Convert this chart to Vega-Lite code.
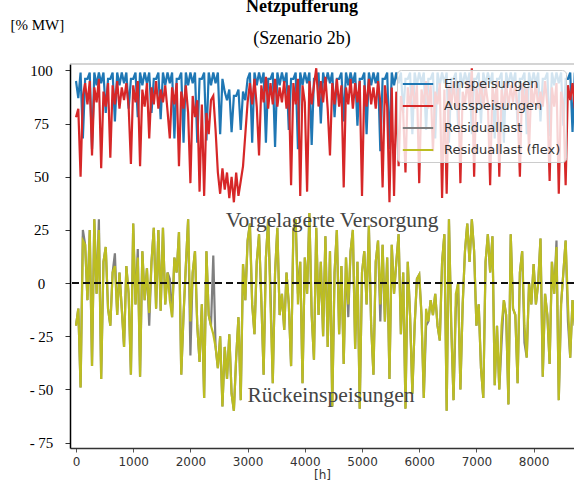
{
  "$schema": "https://vega.github.io/schema/vega-lite/v6.json",
  "width": 504,
  "height": 384,
  "autosize": {"type": "none"},
  "padding": {"left": 70, "top": 64, "right": 0, "bottom": 42},
  "config": {
    "view": {"stroke": null},
    "legend": {
      "orient": "none", "legendX": 327, "legendY": 6,
      "fillColor": "rgba(255,255,255,0.8)", "strokeColor": "#cccccc", "cornerRadius": 4,
      "padding": 5, "symbolType": "M-1.9,0H1.9", "symbolSize": 256, "symbolStrokeWidth": 2, "symbolOffset": 7,
      "labelFont": "DejaVu Sans", "labelFontSize": 13, "labelColor": "#333333", "labelOffset": 17,
      "rowPadding": 6
    }
  },
  "title": {
    "text": "Netzpufferung", "subtitle": "(Szenario 2b)",
    "font": "Liberation Serif", "fontSize": 18, "fontWeight": "bold", "color": "black",
    "subtitleFont": "Liberation Serif", "subtitleFontSize": 18, "subtitleColor": "black",
    "subtitlePadding": 14, "anchor": "middle", "frame": "group", "offset": -31, "dx": -20
  },
  "data": {"values": [
    {"h":0,"E":95,"A":78,"R":-20,"F":-20},{"h":40,"E":87,"A":82,"R":-12,"F":-12},{"h":80,"E":99,"A":50,"R":-49,"F":-49},{"h":120,"E":68,"A":88,"R":25,"F":20},{"h":160,"E":96,"A":94,"R":18,"F":18},
    {"h":200,"E":96,"A":84,"R":-8,"F":-8},{"h":240,"E":99,"A":95,"R":25,"F":25},{"h":280,"E":63,"A":60,"R":-39,"F":-39},{"h":320,"E":99,"A":92,"R":30,"F":30},{"h":360,"E":93,"A":85,"R":-5,"F":-5},
    {"h":400,"E":99,"A":96,"R":30,"F":25},{"h":440,"E":94,"A":54,"R":-45,"F":-45},{"h":480,"E":99,"A":90,"R":10,"F":10},{"h":520,"E":80,"A":83,"R":17,"F":17},{"h":560,"E":96,"A":94,"R":-12,"F":-12},
    {"h":600,"E":96,"A":59,"R":-20,"F":-20},{"h":640,"E":99,"A":93,"R":5,"F":5},{"h":680,"E":76,"A":84,"R":14,"F":8},{"h":720,"E":99,"A":95,"R":-15,"F":-15},{"h":760,"E":93,"A":82,"R":5,"F":5},
    {"h":800,"E":99,"A":92,"R":-12,"F":-12},{"h":840,"E":94,"A":86,"R":-30,"F":-30},{"h":880,"E":99,"A":94,"R":8,"F":8},{"h":920,"E":82,"A":83,"R":-5,"F":-5},{"h":960,"E":96,"A":56,"R":-43,"F":-43},
    {"h":1000,"E":96,"A":93,"R":28,"F":28},{"h":1040,"E":99,"A":85,"R":-10,"F":-10},{"h":1080,"E":78,"A":95,"R":16,"F":12},{"h":1120,"E":99,"A":55,"R":-44,"F":-44},{"h":1160,"E":93,"A":91,"R":15,"F":15},
    {"h":1200,"E":99,"A":83,"R":-8,"F":-8},{"h":1240,"E":94,"A":94,"R":7,"F":7},{"h":1280,"E":99,"A":68,"R":-20,"F":-14},{"h":1320,"E":80,"A":92,"R":10,"F":10},{"h":1360,"E":96,"A":84,"R":26,"F":26},
    {"h":1400,"E":96,"A":95,"R":-12,"F":-12},{"h":1440,"E":99,"A":82,"R":25,"F":25},{"h":1480,"E":77,"A":91,"R":-13,"F":-13},{"h":1520,"E":99,"A":85,"R":26,"F":26},{"h":1560,"E":93,"A":93,"R":-10,"F":-10},
    {"h":1600,"E":99,"A":81,"R":5,"F":5},{"h":1640,"E":94,"A":68,"R":2,"F":-8},{"h":1680,"E":99,"A":92,"R":-16,"F":-16},{"h":1720,"E":68,"A":84,"R":12,"F":12},{"h":1760,"E":96,"A":94,"R":5,"F":5},
    {"h":1800,"E":96,"A":55,"R":24,"F":24},{"h":1840,"E":99,"A":90,"R":-43,"F":-43},{"h":1880,"E":66,"A":82,"R":-15,"F":-15},{"h":1920,"E":99,"A":93,"R":8,"F":8},{"h":1960,"E":93,"A":80,"R":30,"F":30},
    {"h":2000,"E":99,"A":47,"R":-34,"F":-18},{"h":2040,"E":94,"A":88,"R":5,"F":5},{"h":2080,"E":99,"A":78,"R":15,"F":15},{"h":2120,"E":66,"A":86,"R":-20,"F":-20},{"h":2160,"E":96,"A":43,"R":-37,"F":-37},
    {"h":2200,"E":96,"A":84,"R":-10,"F":-10},{"h":2240,"E":99,"A":41,"R":-54,"F":-54},{"h":2280,"E":67,"A":80,"R":15,"F":15},{"h":2320,"E":99,"A":70,"R":-15,"F":-15},{"h":2360,"E":93,"A":86,"R":-20,"F":-20},
    {"h":2400,"E":99,"A":88,"R":13,"F":-24},{"h":2440,"E":94,"A":72,"R":-30,"F":-30},{"h":2480,"E":99,"A":52,"R":-40,"F":-40},{"h":2520,"E":70,"A":42,"R":-25,"F":-25},{"h":2560,"E":96,"A":54,"R":-58,"F":-58},
    {"h":2600,"E":90,"A":44,"R":-30,"F":-30},{"h":2640,"E":86,"A":52,"R":-45,"F":-45},{"h":2680,"E":91,"A":40,"R":-24,"F":-24},{"h":2720,"E":71,"A":50,"R":-52,"F":-52},{"h":2760,"E":88,"A":38,"R":-60,"F":-60},
    {"h":2800,"E":88,"A":52,"R":-35,"F":-35},{"h":2840,"E":91,"A":41,"R":-16,"F":-16},{"h":2880,"E":72,"A":48,"R":-55,"F":-55},{"h":2920,"E":90,"A":55,"R":9,"F":9},{"h":2960,"E":86,"A":70,"R":-8,"F":-8},
    {"h":3000,"E":96,"A":85,"R":20,"F":20},{"h":3040,"E":99,"A":94,"R":28,"F":28},{"h":3080,"E":66,"A":84,"R":-10,"F":-10},{"h":3120,"E":99,"A":96,"R":-24,"F":-24},{"h":3160,"E":93,"A":83,"R":10,"F":10},
    {"h":3200,"E":99,"A":60,"R":23,"F":23},{"h":3240,"E":94,"A":93,"R":-8,"F":-8},{"h":3280,"E":99,"A":85,"R":-43,"F":-43},{"h":3320,"E":66,"A":97,"R":12,"F":12},{"h":3360,"E":96,"A":82,"R":30,"F":30},
    {"h":3400,"E":96,"A":94,"R":-3,"F":-10},{"h":3440,"E":99,"A":84,"R":-47,"F":-47},{"h":3480,"E":64,"A":96,"R":5,"F":5},{"h":3520,"E":99,"A":83,"R":26,"F":26},{"h":3560,"E":93,"A":92,"R":-15,"F":-15},
    {"h":3600,"E":99,"A":85,"R":-5,"F":-5},{"h":3640,"E":94,"A":95,"R":-22,"F":-22},{"h":3680,"E":99,"A":82,"R":5,"F":5},{"h":3720,"E":72,"A":93,"R":-10,"F":-10},{"h":3760,"E":96,"A":46,"R":-39,"F":-39},
    {"h":3800,"E":96,"A":94,"R":25,"F":25},{"h":3840,"E":99,"A":84,"R":30,"F":30},{"h":3880,"E":63,"A":96,"R":-5,"F":-10},{"h":3920,"E":99,"A":41,"R":10,"F":10},{"h":3960,"E":93,"A":93,"R":-47,"F":-47},
    {"h":4000,"E":99,"A":85,"R":12,"F":12},{"h":4040,"E":94,"A":43,"R":-5,"F":-5},{"h":4080,"E":99,"A":95,"R":33,"F":33},{"h":4120,"E":65,"A":84,"R":-15,"F":-15},{"h":4160,"E":96,"A":93,"R":-36,"F":-36},
    {"h":4200,"E":96,"A":101,"R":26,"F":26},{"h":4240,"E":99,"A":83,"R":-15,"F":-15},{"h":4280,"E":75,"A":95,"R":10,"F":10},{"h":4320,"E":99,"A":85,"R":-25,"F":-25},{"h":4360,"E":93,"A":97,"R":22,"F":22},
    {"h":4400,"E":99,"A":82,"R":-30,"F":-30},{"h":4440,"E":94,"A":60,"R":15,"F":15},{"h":4480,"E":99,"A":94,"R":-58,"F":-58},{"h":4520,"E":78,"A":84,"R":5,"F":5},{"h":4560,"E":96,"A":96,"R":25,"F":25},
    {"h":4600,"E":96,"A":83,"R":-24,"F":-24},{"h":4640,"E":99,"A":93,"R":8,"F":8},{"h":4680,"E":76,"A":45,"R":-38,"F":-38},{"h":4720,"E":99,"A":92,"R":12,"F":12},{"h":4760,"E":93,"A":84,"R":-16,"F":-10},
    {"h":4800,"E":99,"A":96,"R":15,"F":15},{"h":4840,"E":94,"A":82,"R":25,"F":25},{"h":4880,"E":99,"A":94,"R":-31,"F":-31},{"h":4920,"E":74,"A":85,"R":10,"F":10},{"h":4960,"E":96,"A":95,"R":-59,"F":-59},
    {"h":5000,"E":96,"A":41,"R":5,"F":5},{"h":5040,"E":99,"A":93,"R":15,"F":15},{"h":5080,"E":70,"A":83,"R":-10,"F":-10},{"h":5120,"E":99,"A":96,"R":27,"F":27},{"h":5160,"E":93,"A":84,"R":-20,"F":-20},
    {"h":5200,"E":99,"A":92,"R":-43,"F":-43},{"h":5240,"E":94,"A":82,"R":10,"F":10},{"h":5280,"E":99,"A":95,"R":20,"F":20},{"h":5320,"E":62,"A":85,"R":-18,"F":-10},{"h":5360,"E":96,"A":45,"R":18,"F":18},
    {"h":5400,"E":96,"A":93,"R":-18,"F":-18},{"h":5440,"E":99,"A":83,"R":12,"F":12},{"h":5480,"E":63,"A":38,"R":-45,"F":-45},{"h":5520,"E":99,"A":92,"R":18,"F":18},{"h":5560,"E":93,"A":41,"R":-5,"F":-5},
    {"h":5600,"E":99,"A":90,"R":10,"F":10},{"h":5640,"E":94,"A":55,"R":23,"F":23},{"h":5680,"E":99,"A":88,"R":-24,"F":-24},{"h":5720,"E":80,"A":80,"R":5,"F":5},{"h":5760,"E":96,"A":52,"R":-59,"F":-59},
    {"h":5800,"E":96,"A":92,"R":10,"F":10},{"h":5840,"E":99,"A":83,"R":-15,"F":-15},{"h":5880,"E":70,"A":94,"R":-52,"F":-52},{"h":5920,"E":99,"A":82,"R":-20,"F":-20},{"h":5960,"E":93,"A":93,"R":2,"F":2},
    {"h":6000,"E":99,"A":47,"R":4,"F":4},{"h":6040,"E":94,"A":91,"R":-15,"F":-15},{"h":6080,"E":99,"A":84,"R":-54,"F":-54},{"h":6120,"E":72,"A":95,"R":-20,"F":-12},{"h":6160,"E":96,"A":82,"R":-18,"F":-18},
    {"h":6200,"E":96,"A":93,"R":-8,"F":-8},{"h":6240,"E":99,"A":62,"R":-15,"F":-15},{"h":6280,"E":68,"A":90,"R":-5,"F":-5},{"h":6320,"E":99,"A":84,"R":-20,"F":-20},{"h":6360,"E":93,"A":94,"R":-27,"F":-27},
    {"h":6400,"E":99,"A":40,"R":10,"F":10},{"h":6440,"E":94,"A":91,"R":23,"F":23},{"h":6480,"E":99,"A":42,"R":-60,"F":-60},{"h":6520,"E":66,"A":93,"R":30,"F":30},{"h":6560,"E":96,"A":83,"R":-20,"F":-20},
    {"h":6600,"E":96,"A":95,"R":-55,"F":-55},{"h":6640,"E":99,"A":82,"R":-12,"F":-5},{"h":6680,"E":74,"A":92,"R":0,"F":0},{"h":6720,"E":99,"A":47,"R":-50,"F":-50},{"h":6760,"E":93,"A":90,"R":-10,"F":-10},
    {"h":6800,"E":99,"A":84,"R":15,"F":15},{"h":6840,"E":94,"A":95,"R":28,"F":28},{"h":6880,"E":99,"A":83,"R":10,"F":10},{"h":6920,"E":70,"A":101,"R":30,"F":30},{"h":6960,"E":96,"A":50,"R":15,"F":15},
    {"h":7000,"E":96,"A":92,"R":-20,"F":-20},{"h":7040,"E":99,"A":84,"R":-10,"F":-10},{"h":7080,"E":75,"A":95,"R":-40,"F":-40},{"h":7120,"E":99,"A":82,"R":-54,"F":-54},{"h":7160,"E":93,"A":93,"R":10,"F":10},
    {"h":7200,"E":99,"A":85,"R":23,"F":23},{"h":7240,"E":94,"A":46,"R":5,"F":5},{"h":7280,"E":99,"A":92,"R":22,"F":22},{"h":7320,"E":68,"A":84,"R":-48,"F":-48},{"h":7360,"E":96,"A":95,"R":-20,"F":-20},
    {"h":7400,"E":96,"A":50,"R":-50,"F":-50},{"h":7440,"E":99,"A":91,"R":-28,"F":-20},{"h":7480,"E":66,"A":83,"R":-8,"F":-8},{"h":7520,"E":99,"A":94,"R":-15,"F":-15},{"h":7560,"E":93,"A":82,"R":-57,"F":-57},
    {"h":7600,"E":99,"A":93,"R":23,"F":23},{"h":7640,"E":94,"A":85,"R":-12,"F":-12},{"h":7680,"E":99,"A":95,"R":-15,"F":-15},{"h":7720,"E":73,"A":82,"R":-47,"F":-47},{"h":7760,"E":96,"A":50,"R":5,"F":5},
    {"h":7800,"E":96,"A":94,"R":15,"F":15},{"h":7840,"E":99,"A":83,"R":-28,"F":-20},{"h":7880,"E":70,"A":92,"R":-35,"F":-35},{"h":7920,"E":99,"A":62,"R":0,"F":0},{"h":7960,"E":93,"A":93,"R":-10,"F":-10},
    {"h":8000,"E":99,"A":84,"R":9,"F":9},{"h":8040,"E":94,"A":95,"R":-10,"F":-10},{"h":8080,"E":99,"A":82,"R":0,"F":0},{"h":8120,"E":76,"A":90,"R":21,"F":21},{"h":8160,"E":96,"A":83,"R":-44,"F":-44},
    {"h":8200,"E":96,"A":95,"R":-5,"F":-5},{"h":8240,"E":99,"A":84,"R":-15,"F":-15},{"h":8280,"E":69,"A":48,"R":-38,"F":-38},{"h":8320,"E":99,"A":92,"R":10,"F":10},{"h":8360,"E":93,"A":83,"R":-5,"F":-5},
    {"h":8400,"E":99,"A":94,"R":20,"F":17},{"h":8440,"E":94,"A":42,"R":-55,"F":-55},{"h":8480,"E":99,"A":90,"R":-10,"F":-10},{"h":8520,"E":74,"A":84,"R":5,"F":5},{"h":8560,"E":96,"A":46,"R":20,"F":20},
    {"h":8600,"E":96,"A":93,"R":-18,"F":-10},{"h":8640,"E":99,"A":86,"R":-35,"F":-35},{"h":8680,"E":71,"A":94,"R":-8,"F":-8},{"h":8720,"E":99,"A":82,"R":-20,"F":-20},{"h":8760,"E":93,"A":90,"R":-15,"F":-15}
  ]},
  "layer": [
    {
      "transform": [{"fold": ["E", "A", "R", "F"], "as": ["series", "value"]}, {"filter": "datum.series === 'E'"}],
      "mark": {"type": "line", "strokeWidth": 2.2, "clip": true},
      "encoding": {
        "x": {"field": "h", "type": "quantitative", "scale": {"domain": [-105, 8706], "nice": false, "zero": false},
          "axis": {"values": [0,1000,2000,3000,4000,5000,6000,7000,8000], "format": "d", "grid": false,
            "labelFont": "DejaVu Sans", "labelFontSize": 12, "labelColor": "#333333", "labelPadding": 4,
            "tickSize": 4, "tickColor": "#555555", "domainColor": "#333333", "domainWidth": 1.5,
            "title": "[h]", "titleFont": "DejaVu Sans", "titleFontSize": 12, "titleFontWeight": "normal", "titleColor": "#333333", "titlePadding": 2}},
        "y": {"field": "value", "type": "quantitative", "scale": {"domain": [-77.5, 103], "nice": false, "zero": false},
          "axis": {"values": [-75,-50,-25,0,25,50,75,100], "grid": false,
            "labelExpr": "datum.value < 0 ? '- ' + abs(datum.value) : datum.label",
            "labelFont": "Liberation Serif", "labelFontSize": 15, "labelColor": "black", "labelAlign": "center", "labelPadding": 24,
            "tickSize": 5, "tickColor": "#333333", "domainColor": "black", "domainWidth": 1.5,
            "title": "[% MW]", "titleAngle": 0, "titleAlign": "left", "titleBaseline": "alphabetic",
            "titleX": -60, "titleY": -35, "titleFont": "Liberation Serif", "titleFontSize": 15, "titleFontWeight": "normal", "titleColor": "black"}},
        "color": {"field": "series", "type": "nominal",
          "scale": {"domain": ["E", "A", "R", "F"], "range": ["#1f77b4", "#d62728", "#7f7f7f", "#bcbd22"]},
          "legend": {"title": null, "labelExpr": "datum.value === 'E' ? 'Einspeisungen' : datum.value === 'A' ? 'Ausspeisungen' : datum.value === 'R' ? 'Residuallast' : 'Residuallast (flex)'"}}
      }
    },
    {
      "transform": [{"fold": ["E", "A", "R", "F"], "as": ["series", "value"]}, {"filter": "datum.series === 'A'"}],
      "mark": {"type": "line", "strokeWidth": 2.2, "clip": true},
      "encoding": {"x": {"field": "h", "type": "quantitative"}, "y": {"field": "value", "type": "quantitative"}, "color": {"field": "series", "type": "nominal"}}
    },
    {
      "transform": [{"fold": ["E", "A", "R", "F"], "as": ["series", "value"]}, {"filter": "datum.series === 'R'"}],
      "mark": {"type": "line", "strokeWidth": 2.2, "clip": true},
      "encoding": {"x": {"field": "h", "type": "quantitative"}, "y": {"field": "value", "type": "quantitative"}, "color": {"field": "series", "type": "nominal"}}
    },
    {
      "transform": [{"fold": ["E", "A", "R", "F"], "as": ["series", "value"]}, {"filter": "datum.series === 'F'"}],
      "mark": {"type": "line", "strokeWidth": 2.2, "clip": true},
      "encoding": {"x": {"field": "h", "type": "quantitative"}, "y": {"field": "value", "type": "quantitative"}, "color": {"field": "series", "type": "nominal"}}
    },
    {
      "data": {"values": [{"v": 0}]},
      "mark": {"type": "rule", "color": "#111111", "strokeWidth": 2, "strokeDash": [7, 4]},
      "encoding": {"y": {"field": "v", "type": "quantitative"}}
    },
    {
      "data": {"values": [{"v": 103}]},
      "mark": {"type": "rule", "color": "#aaaaaa", "strokeWidth": 1.2},
      "encoding": {"y": {"field": "v", "type": "quantitative"}}
    },
    {
      "data": {"values": [
        {"h": 4476, "v": 26.3, "label": "Vorgelagerte Versorgung"},
        {"h": 4458, "v": -55.8, "label": "Rückeinspeisungen"}
      ]},
      "mark": {"type": "text", "font": "Liberation Serif", "fontSize": 21.5, "color": "#444444", "align": "center", "baseline": "alphabetic"},
      "encoding": {
        "x": {"field": "h", "type": "quantitative"},
        "y": {"field": "v", "type": "quantitative"},
        "text": {"field": "label"}
      }
    }
  ]
}
